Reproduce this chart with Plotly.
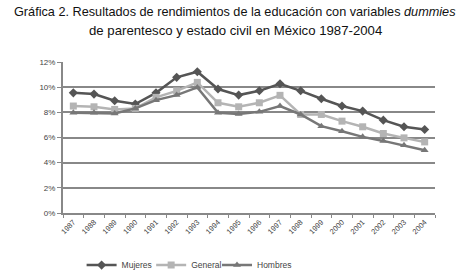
import plotly.graph_objects as go

years = [str(y) for y in range(1987, 2005)]
mujeres = [9.55, 9.45, 8.92, 8.66, 9.55, 10.78, 11.23, 9.85, 9.37, 9.71, 10.27, 9.71, 9.08, 8.50, 8.10, 7.38, 6.85, 6.64]
general = [8.50, 8.44, 8.23, 8.31, 9.19, 9.71, 10.38, 8.76, 8.44, 8.76, 9.35, 7.83, 7.83, 7.30, 6.85, 6.32, 5.97, 5.65]
hombres = [7.96, 7.96, 7.91, 8.31, 8.97, 9.37, 9.98, 7.96, 7.86, 8.04, 8.50, 7.83, 6.90, 6.50, 6.05, 5.73, 5.39, 4.99]
ytick_vals = [0, 2, 4, 6, 8, 10, 12]
ytick_text = ["0%", "2%", "4%", "6%", "8%", "10%", "12%"]
title_lines = [
    "Gráfica 2. Resultados de rendimientos de la educación con variables <i>dummies</i>",
    "de parentesco y estado civil en México 1987-2004",
]

fig = go.Figure()
series = [
    ("Mujeres", mujeres, "#555555", "diamond", "legend", 0.050),
    ("General", general, "#b4b4b4", "square", "legend2", 0.237),
    ("Hombres", hombres, "#777777", "triangle-up", "legend3", 0.414),
]
legend_common = dict(
    orientation="h", xanchor="left", y=-0.345, yanchor="middle",
    font=dict(size=8.5, color="#444444"), itemwidth=30,
    bgcolor="rgba(0,0,0,0)",
)
legends = {}
for name, vals, col, sym, leg, lx in series:
    fig.add_trace(go.Scatter(
        x=years, y=vals, name=name, mode="lines+markers",
        line=dict(color=col, width=2.5),
        marker=dict(symbol=sym, size=7, color=col),
        legend=leg,
    ))
    legends[leg] = dict(legend_common, x=lx)

for txt, yy, fs in zip(title_lines, [1.332, 1.206], [12.7, 13.2]):
    fig.add_annotation(
        text=txt, xref="paper", yref="paper", x=0.463, y=yy,
        xanchor="center", yanchor="middle", showarrow=False,
        font=dict(size=fs, color="#111111", family="Liberation Sans, Arial, sans-serif"),
    )

fig.update_layout(
    width=468, height=273,
    margin=dict(l=63, r=33, t=62, b=60, autoexpand=False),
    paper_bgcolor="white", plot_bgcolor="white",
    font=dict(family="Liberation Sans, Arial, sans-serif", color="#333333"),
    showlegend=True,
    **legends,
)
fig.update_xaxes(
    type="category", range=[-0.5, 17.5],
    showline=True, linecolor="#888888", linewidth=2,
    ticks="outside", ticklen=3, tickcolor="#888888",
    tickson="boundaries", tickangle=-45,
    tickfont=dict(size=7.5, color="#444444"), showgrid=False,
)
fig.update_yaxes(
    range=[0, 12], tickvals=ytick_vals, ticktext=ytick_text,
    showline=True, linecolor="#888888", linewidth=2,
    ticks="outside", ticklen=4, tickcolor="#888888",
    showgrid=True, gridcolor="#888888", gridwidth=1.5,
    tickfont=dict(size=8, color="#444444"), zeroline=False,
)
fig.write_html("out.html", config={"displayModeBar": False},
               post_script="document.body.style.margin='0';")
